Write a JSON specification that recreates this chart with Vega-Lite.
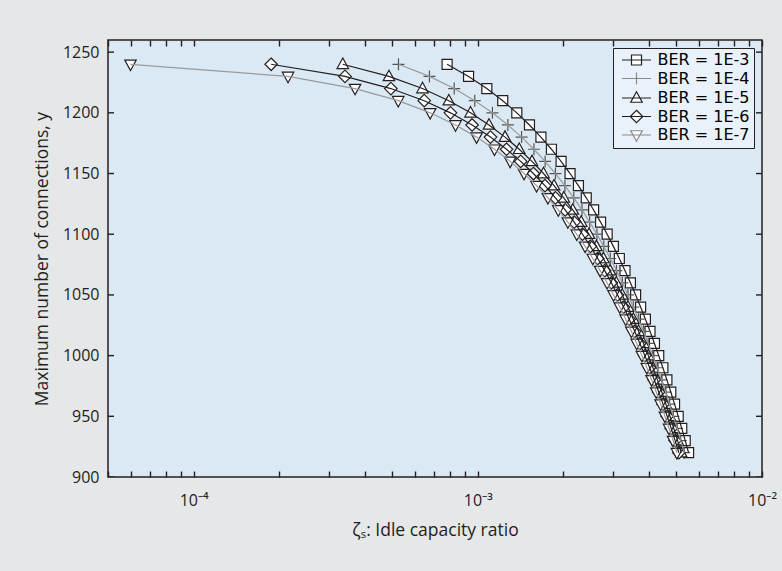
{
  "$schema": "https://vega.github.io/schema/vega-lite/v6.json",
  "width": 654,
  "height": 437,
  "autosize": {"type": "none"},
  "padding": {"left": 108, "top": 40, "right": 20, "bottom": 94},
  "background": "#e6e7e8",
  "config": {
    "font": "Open Sans",
    "view": {"fill": "#dbe9f4", "stroke": "#231f20", "strokeWidth": 1.5},
    "axis": {"zindex": 1, "domain": false, "ticks": false, "grid": true, "gridColor": "#231f20", "gridOpacity": 1, "gridWidth": 1.4, "labelColor": "#231f20", "labelFontSize": 16, "titleColor": "#231f20", "titleFontSize": 17.5, "titleFontWeight": "normal", "labelFont": "Open Sans", "titleFont": "Open Sans"},
    "axisX": {"gridDash": [6, 425, 6, 3000]},
    "axisY": {"grid": false},
    "legend": {"title": null, "orient": "top-right", "offset": 8, "zindex": 2, "fillColor": "#e9f2fa", "strokeColor": "#231f20", "padding": 4, "labelFontSize": 16, "labelColor": "#000000", "labelFont": "DejaVu Sans", "symbolStrokeWidth": 1.2, "symbolSize": 100, "symbolOffset": 11.5, "labelOffset": 13, "rowPadding": 1.5}
  },
  "datasets": {
    "yt": [{"t": 900}, {"t": 950}, {"t": 1000}, {"t": 1050}, {"t": 1100}, {"t": 1150}, {"t": 1200}, {"t": 1250}],
    "d": [
      {"s": "BER = 1E-3", "x": 0.000780, "y": 1240}, {"s": "BER = 1E-3", "x": 0.000928, "y": 1230}, {"s": "BER = 1E-3", "x": 0.001076, "y": 1220}, {"s": "BER = 1E-3", "x": 0.001224, "y": 1210}, {"s": "BER = 1E-3", "x": 0.001372, "y": 1200}, {"s": "BER = 1E-3", "x": 0.001520, "y": 1190}, {"s": "BER = 1E-3", "x": 0.001668, "y": 1180}, {"s": "BER = 1E-3", "x": 0.001816, "y": 1170}, {"s": "BER = 1E-3", "x": 0.001964, "y": 1160}, {"s": "BER = 1E-3", "x": 0.002112, "y": 1150}, {"s": "BER = 1E-3", "x": 0.002260, "y": 1140}, {"s": "BER = 1E-3", "x": 0.002408, "y": 1130}, {"s": "BER = 1E-3", "x": 0.002556, "y": 1120}, {"s": "BER = 1E-3", "x": 0.002704, "y": 1110}, {"s": "BER = 1E-3", "x": 0.002852, "y": 1100}, {"s": "BER = 1E-3", "x": 0.003000, "y": 1090}, {"s": "BER = 1E-3", "x": 0.003148, "y": 1080}, {"s": "BER = 1E-3", "x": 0.003296, "y": 1070}, {"s": "BER = 1E-3", "x": 0.003444, "y": 1060}, {"s": "BER = 1E-3", "x": 0.003592, "y": 1050}, {"s": "BER = 1E-3", "x": 0.003740, "y": 1040}, {"s": "BER = 1E-3", "x": 0.003888, "y": 1030}, {"s": "BER = 1E-3", "x": 0.004036, "y": 1020}, {"s": "BER = 1E-3", "x": 0.004184, "y": 1010}, {"s": "BER = 1E-3", "x": 0.004332, "y": 1000}, {"s": "BER = 1E-3", "x": 0.004480, "y": 990}, {"s": "BER = 1E-3", "x": 0.004628, "y": 980}, {"s": "BER = 1E-3", "x": 0.004776, "y": 970}, {"s": "BER = 1E-3", "x": 0.004924, "y": 960}, {"s": "BER = 1E-3", "x": 0.005072, "y": 950}, {"s": "BER = 1E-3", "x": 0.005220, "y": 940}, {"s": "BER = 1E-3", "x": 0.005368, "y": 930}, {"s": "BER = 1E-3", "x": 0.005516, "y": 920},
      {"s": "BER = 1E-4", "x": 0.000526, "y": 1240}, {"s": "BER = 1E-4", "x": 0.000676, "y": 1230}, {"s": "BER = 1E-4", "x": 0.000826, "y": 1220}, {"s": "BER = 1E-4", "x": 0.000976, "y": 1210}, {"s": "BER = 1E-4", "x": 0.001126, "y": 1200}, {"s": "BER = 1E-4", "x": 0.001276, "y": 1190}, {"s": "BER = 1E-4", "x": 0.001426, "y": 1180}, {"s": "BER = 1E-4", "x": 0.001576, "y": 1170}, {"s": "BER = 1E-4", "x": 0.001726, "y": 1160}, {"s": "BER = 1E-4", "x": 0.001876, "y": 1150}, {"s": "BER = 1E-4", "x": 0.002026, "y": 1140}, {"s": "BER = 1E-4", "x": 0.002176, "y": 1130}, {"s": "BER = 1E-4", "x": 0.002326, "y": 1120}, {"s": "BER = 1E-4", "x": 0.002476, "y": 1110}, {"s": "BER = 1E-4", "x": 0.002626, "y": 1100}, {"s": "BER = 1E-4", "x": 0.002776, "y": 1090}, {"s": "BER = 1E-4", "x": 0.002926, "y": 1080}, {"s": "BER = 1E-4", "x": 0.003076, "y": 1070}, {"s": "BER = 1E-4", "x": 0.003226, "y": 1060}, {"s": "BER = 1E-4", "x": 0.003376, "y": 1050}, {"s": "BER = 1E-4", "x": 0.003526, "y": 1040}, {"s": "BER = 1E-4", "x": 0.003676, "y": 1030}, {"s": "BER = 1E-4", "x": 0.003826, "y": 1020}, {"s": "BER = 1E-4", "x": 0.003976, "y": 1010}, {"s": "BER = 1E-4", "x": 0.004126, "y": 1000}, {"s": "BER = 1E-4", "x": 0.004276, "y": 990}, {"s": "BER = 1E-4", "x": 0.004426, "y": 980}, {"s": "BER = 1E-4", "x": 0.004576, "y": 970}, {"s": "BER = 1E-4", "x": 0.004726, "y": 960}, {"s": "BER = 1E-4", "x": 0.004876, "y": 950}, {"s": "BER = 1E-4", "x": 0.005026, "y": 940}, {"s": "BER = 1E-4", "x": 0.005176, "y": 930}, {"s": "BER = 1E-4", "x": 0.005326, "y": 920},
      {"s": "BER = 1E-5", "x": 0.000335, "y": 1240}, {"s": "BER = 1E-5", "x": 0.000487, "y": 1230}, {"s": "BER = 1E-5", "x": 0.000639, "y": 1220}, {"s": "BER = 1E-5", "x": 0.000791, "y": 1210}, {"s": "BER = 1E-5", "x": 0.000943, "y": 1200}, {"s": "BER = 1E-5", "x": 0.001095, "y": 1190}, {"s": "BER = 1E-5", "x": 0.001247, "y": 1180}, {"s": "BER = 1E-5", "x": 0.001399, "y": 1170}, {"s": "BER = 1E-5", "x": 0.001551, "y": 1160}, {"s": "BER = 1E-5", "x": 0.001703, "y": 1150}, {"s": "BER = 1E-5", "x": 0.001855, "y": 1140}, {"s": "BER = 1E-5", "x": 0.002007, "y": 1130}, {"s": "BER = 1E-5", "x": 0.002159, "y": 1120}, {"s": "BER = 1E-5", "x": 0.002311, "y": 1110}, {"s": "BER = 1E-5", "x": 0.002463, "y": 1100}, {"s": "BER = 1E-5", "x": 0.002615, "y": 1090}, {"s": "BER = 1E-5", "x": 0.002767, "y": 1080}, {"s": "BER = 1E-5", "x": 0.002919, "y": 1070}, {"s": "BER = 1E-5", "x": 0.003071, "y": 1060}, {"s": "BER = 1E-5", "x": 0.003223, "y": 1050}, {"s": "BER = 1E-5", "x": 0.003375, "y": 1040}, {"s": "BER = 1E-5", "x": 0.003527, "y": 1030}, {"s": "BER = 1E-5", "x": 0.003679, "y": 1020}, {"s": "BER = 1E-5", "x": 0.003831, "y": 1010}, {"s": "BER = 1E-5", "x": 0.003983, "y": 1000}, {"s": "BER = 1E-5", "x": 0.004135, "y": 990}, {"s": "BER = 1E-5", "x": 0.004287, "y": 980}, {"s": "BER = 1E-5", "x": 0.004439, "y": 970}, {"s": "BER = 1E-5", "x": 0.004591, "y": 960}, {"s": "BER = 1E-5", "x": 0.004743, "y": 950}, {"s": "BER = 1E-5", "x": 0.004895, "y": 940}, {"s": "BER = 1E-5", "x": 0.005047, "y": 930}, {"s": "BER = 1E-5", "x": 0.005199, "y": 920},
      {"s": "BER = 1E-6", "x": 0.0001875, "y": 1240}, {"s": "BER = 1E-6", "x": 0.000341, "y": 1230}, {"s": "BER = 1E-6", "x": 0.0004945, "y": 1220}, {"s": "BER = 1E-6", "x": 0.000648, "y": 1210}, {"s": "BER = 1E-6", "x": 0.0008015, "y": 1200}, {"s": "BER = 1E-6", "x": 0.000955, "y": 1190}, {"s": "BER = 1E-6", "x": 0.0011085, "y": 1180}, {"s": "BER = 1E-6", "x": 0.001262, "y": 1170}, {"s": "BER = 1E-6", "x": 0.0014155, "y": 1160}, {"s": "BER = 1E-6", "x": 0.001569, "y": 1150}, {"s": "BER = 1E-6", "x": 0.0017225, "y": 1140}, {"s": "BER = 1E-6", "x": 0.001876, "y": 1130}, {"s": "BER = 1E-6", "x": 0.0020295, "y": 1120}, {"s": "BER = 1E-6", "x": 0.002183, "y": 1110}, {"s": "BER = 1E-6", "x": 0.0023365, "y": 1100}, {"s": "BER = 1E-6", "x": 0.002490, "y": 1090}, {"s": "BER = 1E-6", "x": 0.0026435, "y": 1080}, {"s": "BER = 1E-6", "x": 0.002797, "y": 1070}, {"s": "BER = 1E-6", "x": 0.0029505, "y": 1060}, {"s": "BER = 1E-6", "x": 0.003104, "y": 1050}, {"s": "BER = 1E-6", "x": 0.0032575, "y": 1040}, {"s": "BER = 1E-6", "x": 0.003411, "y": 1030}, {"s": "BER = 1E-6", "x": 0.0035645, "y": 1020}, {"s": "BER = 1E-6", "x": 0.003718, "y": 1010}, {"s": "BER = 1E-6", "x": 0.0038715, "y": 1000}, {"s": "BER = 1E-6", "x": 0.004025, "y": 990}, {"s": "BER = 1E-6", "x": 0.0041785, "y": 980}, {"s": "BER = 1E-6", "x": 0.004332, "y": 970}, {"s": "BER = 1E-6", "x": 0.0044855, "y": 960}, {"s": "BER = 1E-6", "x": 0.004639, "y": 950}, {"s": "BER = 1E-6", "x": 0.0047925, "y": 940}, {"s": "BER = 1E-6", "x": 0.004946, "y": 930}, {"s": "BER = 1E-6", "x": 0.0050995, "y": 920},
      {"s": "BER = 1E-7", "x": 0.000060, "y": 1240}, {"s": "BER = 1E-7", "x": 0.000215, "y": 1230}, {"s": "BER = 1E-7", "x": 0.000370, "y": 1220}, {"s": "BER = 1E-7", "x": 0.000525, "y": 1210}, {"s": "BER = 1E-7", "x": 0.000680, "y": 1200}, {"s": "BER = 1E-7", "x": 0.000835, "y": 1190}, {"s": "BER = 1E-7", "x": 0.000990, "y": 1180}, {"s": "BER = 1E-7", "x": 0.001145, "y": 1170}, {"s": "BER = 1E-7", "x": 0.001300, "y": 1160}, {"s": "BER = 1E-7", "x": 0.001455, "y": 1150}, {"s": "BER = 1E-7", "x": 0.001610, "y": 1140}, {"s": "BER = 1E-7", "x": 0.001765, "y": 1130}, {"s": "BER = 1E-7", "x": 0.001920, "y": 1120}, {"s": "BER = 1E-7", "x": 0.002075, "y": 1110}, {"s": "BER = 1E-7", "x": 0.002230, "y": 1100}, {"s": "BER = 1E-7", "x": 0.002385, "y": 1090}, {"s": "BER = 1E-7", "x": 0.002540, "y": 1080}, {"s": "BER = 1E-7", "x": 0.002695, "y": 1070}, {"s": "BER = 1E-7", "x": 0.002850, "y": 1060}, {"s": "BER = 1E-7", "x": 0.003005, "y": 1050}, {"s": "BER = 1E-7", "x": 0.003160, "y": 1040}, {"s": "BER = 1E-7", "x": 0.003315, "y": 1030}, {"s": "BER = 1E-7", "x": 0.003470, "y": 1020}, {"s": "BER = 1E-7", "x": 0.003625, "y": 1010}, {"s": "BER = 1E-7", "x": 0.003780, "y": 1000}, {"s": "BER = 1E-7", "x": 0.003935, "y": 990}, {"s": "BER = 1E-7", "x": 0.004090, "y": 980}, {"s": "BER = 1E-7", "x": 0.004245, "y": 970}, {"s": "BER = 1E-7", "x": 0.004400, "y": 960}, {"s": "BER = 1E-7", "x": 0.004555, "y": 950}, {"s": "BER = 1E-7", "x": 0.004710, "y": 940}, {"s": "BER = 1E-7", "x": 0.004865, "y": 930}, {"s": "BER = 1E-7", "x": 0.005020, "y": 920}
    ]
  },
  "data": {"name": "d"},
  "resolve": {"scale": {"shape": "independent", "stroke": "independent"}, "axis": {"x": "independent", "y": "independent"}},
  "layer": [
    {
      "mark": {"type": "point", "filled": true, "fill": "white", "opacity": 1, "size": 100, "strokeWidth": 1.2},
      "encoding": {
        "x": {"field": "x", "type": "quantitative", "scale": {"type": "log", "domain": [0.00005, 0.01], "nice": false},
          "axis": {"title": "ζₛ: Idle capacity ratio", "gridDash": [6, 425, 6, 3000], "labelFlush": false, "labelOverlap": false, "labelPadding": 15, "titlePadding": 13,
            "labelExpr": "abs(datum.value - 0.0001) < 1e-9 ? '10⁻⁴' : abs(datum.value - 0.001) < 1e-8 ? '10⁻³' : abs(datum.value - 0.01) < 1e-7 ? '10⁻²' : ''"}},
        "y": {"field": "y", "type": "quantitative", "scale": {"domain": [900, 1260], "nice": false, "zero": false},
          "axis": {"title": "Maximum number of connections, y", "grid": false, "format": "d", "tickCount": 8, "labelPadding": 9, "titlePadding": 11}},
        "shape": {"field": "s", "type": "nominal", "legend": null,
          "scale": {"domain": ["BER = 1E-3", "BER = 1E-4", "BER = 1E-5", "BER = 1E-6", "BER = 1E-7"],
            "range": ["M-1,-1H1V1H-1Z", "M-1.2,0H1.2M0,-1.2V1.2", "M0,-1.25L1.15,0.85H-1.15Z", "M0,-1.25L1.25,0L0,1.25L-1.25,0Z", "M0,1.25L1.15,-0.85H-1.15Z"]}},
        "stroke": {"field": "s", "type": "nominal", "legend": null,
          "scale": {"domain": ["BER = 1E-3", "BER = 1E-4", "BER = 1E-5", "BER = 1E-6", "BER = 1E-7"],
            "range": ["#231f20", "#555555", "#231f20", "#231f20", "#231f20"]}}
      }
    },
    {
      "mark": {"type": "line", "strokeWidth": 1.2},
      "encoding": {
        "x": {"field": "x", "type": "quantitative", "axis": null},
        "y": {"field": "y", "type": "quantitative", "axis": null},
        "stroke": {"field": "s", "type": "nominal", "legend": null,
          "scale": {"domain": ["BER = 1E-3", "BER = 1E-4", "BER = 1E-5", "BER = 1E-6", "BER = 1E-7"],
            "range": ["#231f20", "#9a9a9a", "#231f20", "#231f20", "#9a9a9a"]}}
      }
    },
    {
      "data": {"name": "yt"},
      "mark": {"type": "tick", "orient": "horizontal", "size": 12, "thickness": 1.4, "color": "#231f20", "opacity": 1, "clip": true},
      "encoding": {
        "x": {"datum": 0.00005, "type": "quantitative", "axis": null},
        "y": {"field": "t", "type": "quantitative", "axis": null}
      }
    },
    {
      "data": {"name": "yt"},
      "mark": {"type": "tick", "orient": "horizontal", "size": 12, "thickness": 1.4, "color": "#231f20", "opacity": 1, "clip": true},
      "encoding": {
        "x": {"datum": 0.01, "type": "quantitative", "axis": null},
        "y": {"field": "t", "type": "quantitative", "axis": null}
      }
    },
    {
      "transform": [{"filter": "false"}],
      "mark": {"type": "point", "filled": true, "fill": "white", "opacity": 1, "size": 100, "strokeWidth": 1.2},
      "encoding": {
        "x": {"field": "x", "type": "quantitative", "axis": {"orient": "top", "labels": false, "title": null, "gridDash": [6, 425, 6, 3000]}},
        "y": {"field": "y", "type": "quantitative", "axis": {"orient": "right", "labels": false, "title": null, "grid": false, "tickCount": 8}},
        "shape": {"field": "s", "type": "nominal",
          "scale": {"domain": ["BER = 1E-3", "BER = 1E-4", "BER = 1E-5", "BER = 1E-6", "BER = 1E-7"],
            "range": ["M-2.9,0H2.9M-1,-1H1V1H-1Z", "M-2.9,0H2.9M0,-1.2V1.2", "M-2.9,0H2.9M0,-1.25L1.15,0.85H-1.15Z", "M-2.9,0H2.9M0,-1.25L1.25,0L0,1.25L-1.25,0Z", "M-2.9,0H2.9M0,1.25L1.15,-0.85H-1.15Z"]}},
        "stroke": {"field": "s", "type": "nominal",
          "scale": {"domain": ["BER = 1E-3", "BER = 1E-4", "BER = 1E-5", "BER = 1E-6", "BER = 1E-7"],
            "range": ["#231f20", "#8a8a8a", "#231f20", "#231f20", "#8a8a8a"]}}
      }
    }
  ]
}
